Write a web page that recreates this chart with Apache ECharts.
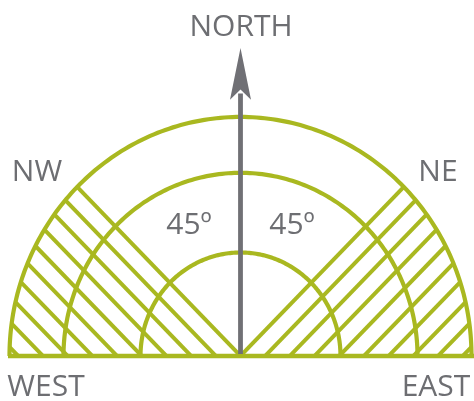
<!DOCTYPE html>
<html>
<head>
<meta charset="utf-8">
<script src="https://cdn.jsdelivr.net/npm/echarts@6/dist/echarts.min.js"></script>
<style>
html,body{margin:0;padding:0;background:#fff;}
#chart{width:474px;height:401px;}
</style>
</head>
<body>
<div id="chart"></div>
<script>
// ---- data ----
var ringRadii = [100, 177, 231];                 // semicircle radii (diagram units)
var hatchIntercepts = [0, 24.7, 49.4, 74.1, 98.8, 123.5, 148.2, 172.9, 197.6, 222.3]; // where hatch lines meet the baseline
var hatchSides = [1, -1];                        // 1 = NE sector, -1 = NW sector
var baseExtent = [-232.5, 233.5];                // baseline from / to
var northArrow = [0, 297.5];                     // shaft from centre to tip
var labelNames = ['NORTH', 'NW', 'NE', 'WEST', 'EAST', '45º', '45º'];

var GREEN = '#a9b820';
var GREY = '#707075';
var outerR = ringRadii[ringRadii.length - 1];

var chart = echarts.init(document.getElementById('chart'), null, {renderer: 'canvas'});

function arcItem(params, api) {
  var r = api.value(0);
  var pts = [];
  for (var a = 0; a <= 180; a += 1) {
    var t = a * Math.PI / 180;
    pts.push(api.coord([r * Math.cos(t), r * Math.sin(t)]));
  }
  return {type: 'polyline', shape: {points: pts}, style: {stroke: GREEN, lineWidth: 4.2, fill: null}};
}

function hatchItem(params, api) {
  var c = api.value(0), side = api.value(1);
  var xe = (c + Math.sqrt(2 * outerR * outerR - c * c)) / 2;
  var ye = xe - c;
  var p1 = api.coord([side * c, 0]);
  var p2 = api.coord([side * xe, ye]);
  return {type: 'line', shape: {x1: p1[0], y1: p1[1], x2: p2[0], y2: p2[1]}, style: {stroke: GREEN, lineWidth: 4}};
}

var hatchData = [];
hatchSides.forEach(function (s) { hatchIntercepts.forEach(function (c) { hatchData.push([c, s]); }); });

function baseItem(params, api) {
  var p1 = api.coord([baseExtent[0], 0]);
  var p2 = api.coord([baseExtent[1], 0]);
  return {type: 'line', shape: {x1: p1[0], y1: p1[1], x2: p2[0], y2: p2[1]}, style: {stroke: GREEN, lineWidth: 4.6}};
}

function arrowItem(params, api) {
  var y0 = api.value(0), tip = api.value(1);
  var b = api.coord([0, y0]);
  var t = api.coord([0, tip]);
  var notch = api.coord([0, tip - 40]);
  var l = api.coord([-10.5, tip - 50]);
  var r = api.coord([10.5, tip - 50]);
  return {type: 'group', children: [
    {type: 'line', shape: {x1: b[0], y1: b[1] - 2, x2: notch[0], y2: notch[1] + 4}, style: {stroke: GREY, lineWidth: 4.8}},
    {type: 'polygon', shape: {points: [t, r, notch, l]}, style: {fill: GREY}}
  ]};
}

var font = '"Open Sans", "Noto Sans", sans-serif';
function label(text, x, y, align) {
  return {type: 'text', x: x, y: y, style: {text: text, font: '30px ' + font, fill: '#6d6e72', textAlign: align || 'center', textVerticalAlign: 'middle'}};
}

chart.setOption({
  animation: false,
  grid: {left: 0, right: 0, top: 0, bottom: 0},
  xAxis: {type: 'value', min: -240.5, max: 233.5, show: false},
  yAxis: {type: 'value', min: -43.5, max: 344, show: false},
  series: [
    {type: 'custom', renderItem: hatchItem, data: hatchData, clip: false, z: 2},
    {type: 'custom', renderItem: arcItem, data: ringRadii.map(function (r) { return [r]; }), clip: false, z: 3},
    {type: 'custom', renderItem: baseItem, data: [[0]], clip: false, z: 4},
    {type: 'custom', renderItem: arrowItem, data: [northArrow], clip: false, z: 5}
  ],
  graphic: [
    label(labelNames[0], 241, 27),
    label(labelNames[1], 37, 172),
    label(labelNames[2], 438, 172),
    label(labelNames[3], 46, 387),
    label(labelNames[4], 436, 387),
    label(labelNames[5], 189, 225),
    label(labelNames[6], 292, 225)
  ]
});
</script>
</body>
</html>
